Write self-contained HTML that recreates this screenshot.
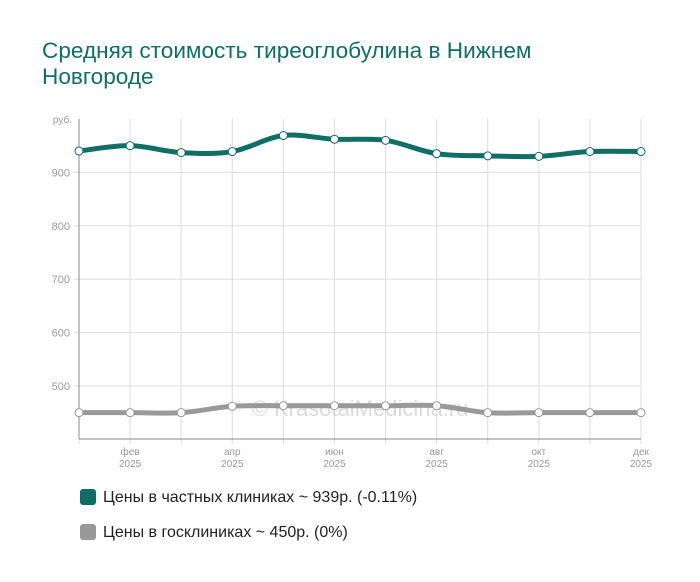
<!DOCTYPE html><html><head><meta charset="utf-8"><style>
body{margin:0;background:#fff;width:700px;height:582px;overflow:hidden;font-family:"Liberation Sans",sans-serif}
h1{position:absolute;left:42px;top:38px;margin:0;font-weight:normal;font-size:22.6px;line-height:26px;color:#0f6e66}
.lg{position:absolute;left:80px;font-size:16px;color:#222}
.lg i{display:inline-block;width:16px;height:16px;border-radius:3px;vertical-align:-3px;margin-right:7px}
</style></head><body>
<h1>Средняя стоимость тиреоглобулина в Нижнем<br>Новгороде</h1>
<svg id="s" width="700" height="582" style="position:absolute;left:0;top:0" font-family="Liberation Sans, sans-serif"></svg>
<div class="lg" style="top:489px"><i style="background:#0f6e66"></i>Цены в частных клиниках ~ 939р. (-0.11%)</div>
<div class="lg" style="top:524px"><i style="background:#999"></i>Цены в госклиниках ~ 450р. (0%)</div>
<script>
var s=document.getElementById('s'),h='';
var x0=79,dx=(641-79)/11;function Y(v){return 439-(v-400.7)*0.534;}
[500,600,700,800,900].forEach(function(v){h+='<line x1="74" x2="641" y1="'+Y(v)+'" y2="'+Y(v)+'" stroke="#ddd"/><text x="70" y="'+(Y(v)+4)+'" text-anchor="end" font-size="11" fill="#999">'+v+'</text>';});
h+='<text x="72" y="123" text-anchor="end" font-size="10" fill="#999">руб.</text>';
for(var i=0;i<12;i++){var x=x0+i*dx;h+='<line x1="'+x+'" x2="'+x+'" y1="119" y2="444" stroke="#ddd"/>';}
h+='<line x1="79" x2="79" y1="119" y2="439" stroke="#888"/><line x1="79" x2="641" y1="439" y2="439" stroke="#888"/>';
var m=['фев','апр','июн','авг','окт','дек'];
m.forEach(function(t,k){var x=x0+(2*k+1)*dx;h+='<text x="'+x+'" y="455" text-anchor="middle" font-size="10" fill="#999">'+t+'</text><text x="'+x+'" y="467" text-anchor="middle" font-size="10" fill="#999">2025</text>';});
h+='<text x="360" y="416" text-anchor="middle" font-size="22" fill="#ccc" opacity="0.7">© KrasotaiMedicina.ru</text>';
function path(d){var p=d.map(function(v,i){return[x0+i*dx,Y(v)]});var r='M'+p[0];for(var i=0;i<p.length-1;i++){var a=p[i-1]||p[i],b=p[i],c=p[i+1],e=p[i+2]||c;r+='C'+(b[0]+(c[0]-a[0])/6)+','+(b[1]+(c[1]-a[1])/6)+' '+(c[0]-(e[0]-b[0])/6)+','+(c[1]-(e[1]-b[1])/6)+' '+c;}return [r,p];}
function ser(d,col){var q=path(d);h+='<path d="'+q[0]+'" fill="none" stroke="'+col+'" stroke-width="5"/>';q[1].forEach(function(pt){h+='<circle cx="'+pt[0]+'" cy="'+pt[1]+'" r="4" fill="#fff" stroke="'+col+'" stroke-width="1"/>';});}
ser([940,950,937,939,969,962,960,935,931,930,939,939],'#0f6e66');
ser([450,450,450,462,463,463,463,463,450,450,450,450],'#999');
s.innerHTML=h;
</script></body></html>
